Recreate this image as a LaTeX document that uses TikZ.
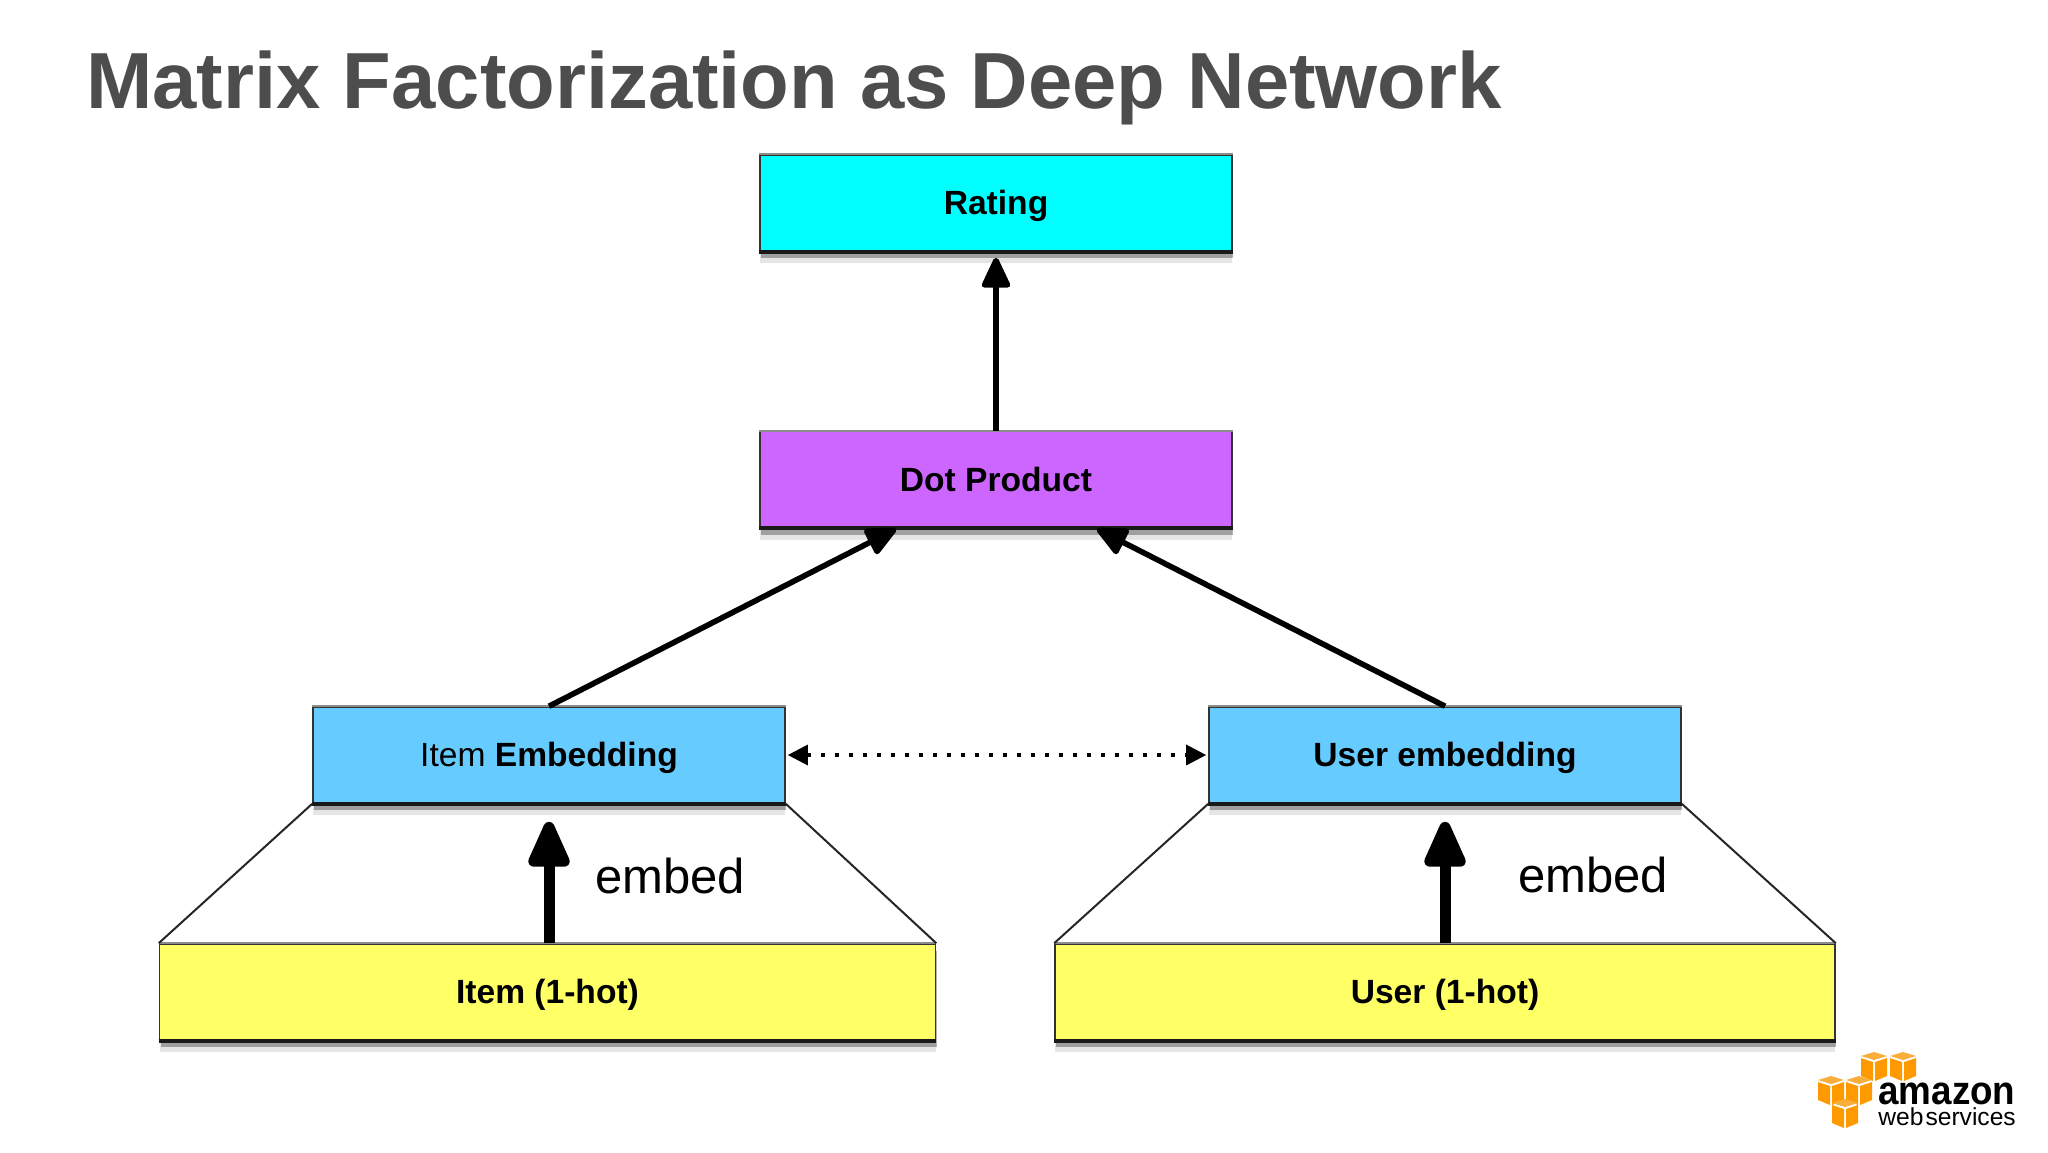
\documentclass[tikz,border=0pt]{standalone}
\usepackage{fontspec}
\setmainfont{Liberation Sans}
\usetikzlibrary{arrows.meta,shadows,calc}
\definecolor{cCyan}{HTML}{00FFFF}
\definecolor{cPurple}{HTML}{CC66FF}
\definecolor{cBlue}{HTML}{66CCFF}
\definecolor{cYellow}{HTML}{FFFF66}
\definecolor{cTitle}{HTML}{4D4D4D}
\definecolor{cOrange}{HTML}{FF9900}
\definecolor{cOrangeTop}{HTML}{F7AE3A}
\tikzset{
  box/.style={draw=black!80,line width=0.8pt,inner sep=0pt,text=black,
    font=\fontsize{16.8}{20}\selectfont,text height=11.6pt,text depth=0pt,
    preaction={draw=none,fill=black!10,transform canvas={yshift=-6pt}},
    drop shadow={shadow xshift=0.5pt,shadow yshift=-3.5pt,fill=black,opacity=.3}},
  wide/.style={box,minimum width=236pt,minimum height=48pt},
  hot/.style={box,minimum height=48pt},
  bottomedge/.style={line width=2pt,draw=black!90},
  topedge/.style={line width=1pt,draw=black!45},
  arr/.style={line width=2.8pt,-{Triangle[round,length=17pt,width=15pt]}},
  bigarr/.style={line width=5.5pt,-{Triangle[round,length=27pt,width=22pt]}},
  dotarr/.style={line width=1.6pt,dash pattern=on 2pt off 5pt,
    {Triangle[length=10pt,width=10pt]}-{Triangle[length=10pt,width=10pt]}},
  flare/.style={line width=1pt,draw=black!85},
  cube/.pic={
    \fill[cOrangeTop] (0,0)--(13,4)--(0,8)--(-13,4)--cycle;
    \fill[cOrange] (-13,6)--(-1,10)--(-1,29)--(-13,24)--cycle;
    \fill[cOrange] (13,6)--(1,10)--(1,29)--(13,24)--cycle;
  }
}
\begin{document}
\begin{tikzpicture}[x=0.5pt,y=-0.5pt]
\useasboundingbox[fill=white] (0,0) rectangle (2048,1152);
\node[anchor=base west,text=cTitle,inner sep=0pt,font=\fontsize{39.8}{46}\selectfont\bfseries] (title) at (86,108) {Matrix Factorization as Deep Network};
\node[wide,fill=cCyan] (rating) at (996,203) {\textbf{Rating}};
\node[wide,fill=cPurple] (dot) at (996,479.5) {\textbf{Dot Product}};
\node[wide,fill=cBlue] (itememb) at (549,755) {Item \textbf{Embedding}};
\node[wide,fill=cBlue] (useremb) at (1445,755) {\textbf{User embedding}};
\node[hot,minimum width=388pt,fill=cYellow] (itemhot) at (547.5,992) {\textbf{Item (1-hot)}};
\node[hot,minimum width=390pt,fill=cYellow] (userhot) at (1445,992) {\textbf{User (1-hot)}};
\foreach \n in {rating,dot,itememb,useremb,itemhot,userhot}{
  \draw[bottomedge] (\n.south west) -- (\n.south east);
  \draw[topedge] (\n.north west) -- (\n.north east);
}
\coordinate (dotL) at (896,529);
\coordinate (dotR) at (1097,529);
\draw[arr,shorten >=3pt] (dot.north) -- (rating.south);
\draw[arr] (itememb.north) -- (dotL);
\draw[arr] (useremb.north) -- (dotR);
\draw[dotarr,shorten <=1pt,shorten >=1pt] (itememb.east) -- (useremb.west);
\draw[bigarr,shorten >=9pt] (itememb.south |- itemhot.north) -- (itememb.south);
\draw[bigarr,shorten >=9pt] (useremb.south |- userhot.north) -- (useremb.south);
\draw[flare] (itememb.south west) -- (itemhot.north west);
\draw[flare] (itememb.south east) -- (itemhot.north east);
\draw[flare] (useremb.south west) -- (userhot.north west);
\draw[flare] (useremb.south east) -- (userhot.north east);
\node[inner sep=0pt,font=\fontsize{24.5}{28}\selectfont] (embedA) at (670,876) {embed};
\node[inner sep=0pt,font=\fontsize{24.5}{28}\selectfont] (embedB) at (1593,875) {embed};
\pic at (1874,1052) {cube};
\pic at (1903,1052) {cube};
\pic at (1831,1076) {cube};
\pic at (1859,1076) {cube};
\pic at (1845,1099) {cube};
\node[anchor=base west,inner sep=0pt,text=black,font=\fontsize{20}{22}\selectfont\bfseries,xscale=0.92,transform shape] (amazon) at (1878,1104) {amazon};
\node[anchor=base west,inner sep=0pt,text=black,font=\fontsize{12.3}{14}\selectfont] (aws) at (1878,1125) {web\hspace{1pt}services};
\end{tikzpicture}
\end{document}
